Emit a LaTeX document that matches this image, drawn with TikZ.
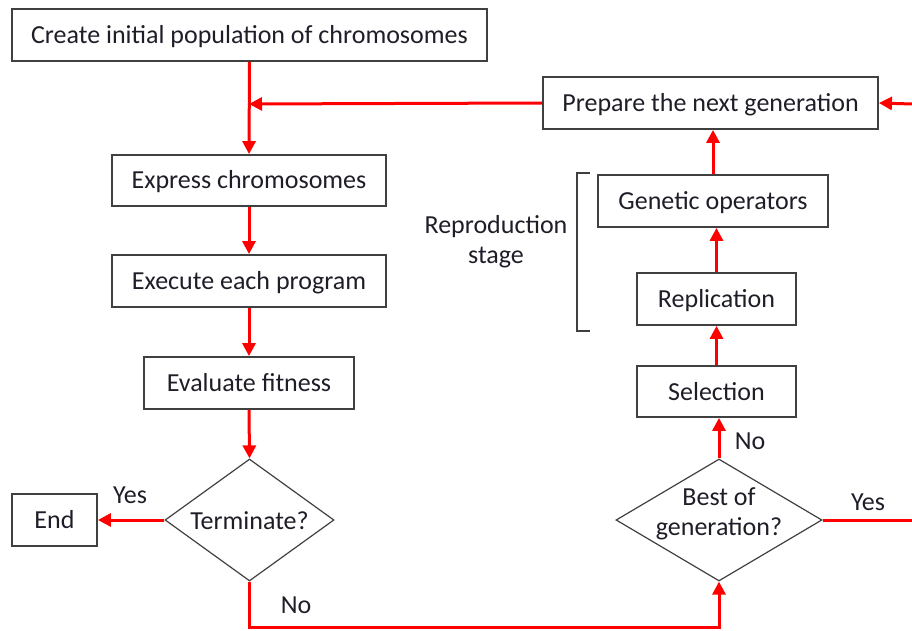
\documentclass[tikz,border=0pt]{standalone}
\usepackage{fontspec}
\setmainfont{Carlito}
\usetikzlibrary{shapes.geometric,arrows.meta}
\definecolor{txt}{HTML}{1E1E28}
\definecolor{bord}{HTML}{404040}
\begin{document}
\begin{tikzpicture}[x=1pt,y=-1pt,
  font=\fontsize{26}{30}\selectfont, text=txt,
  box/.style={draw=bord, line width=1.8pt, inner sep=0pt, rectangle, text height=21pt, text depth=4pt},
  dia/.style={draw=bord, line width=1.2pt, diamond, inner sep=0pt},
  flow/.style={draw=red, line width=3pt},
  arr/.style={flow, -{Triangle[length=13pt,width=13pt]}},
  lbl/.style={inner sep=0pt}
]
\useasboundingbox (0,0) rectangle (912,631);

% boxes
\node[box, minimum width=475pt, minimum height=52pt] (create) at (249.5,35) {Create initial population of chromosomes};
\node[box, minimum width=335pt, minimum height=52pt] (prep) at (710.5,103) {Prepare the next generation};
\node[box, minimum width=274pt, minimum height=51pt] (expr) at (249,180.5) {Express chromosomes};
\node[box, minimum width=274pt, minimum height=52pt] (exec) at (249,281) {Execute each program};
\node[box, minimum width=210pt, minimum height=52pt] (eval) at (249,383) {Evaluate fitness};
\node[box, minimum width=85pt, minimum height=52pt] (end) at (54.5,520) {End};
\node[box, minimum width=230pt, minimum height=52pt] (gen) at (713,201) {Genetic operators};
\node[box, minimum width=159pt, minimum height=52pt] (repl) at (716.5,299) {Replication};
\node[box, minimum width=159pt, minimum height=51pt] (sel) at (716.5,391.5) {Selection};

% diamonds
\node[dia, minimum width=169pt, minimum height=122pt,
      label={[lbl,yshift=-1pt]center:Terminate?}] (term) at (249.5,520) {};
\node[dia, minimum width=206pt, minimum height=122pt,
      label={[lbl,align=center,yshift=6pt]center:Best of\\generation?}] (best) at (719,520) {};

% labels
\node[lbl] (yes1) at (130,495) {Yes};
\node[lbl] (no1) at (296,605) {No};
\node[lbl] (no2) at (750,441) {No};
\node[lbl] (yes2) at (868,502) {Yes};
\node[lbl, align=center] (repro) at (496,242) {Reproduction\\stage};

% bracket
\draw[bord, line width=1.2pt] (590,173) -- (577,173) -- (577,331) -- (590,331);

% connectors
\coordinate (j) at (249,104);
\coordinate (r1) at (912,520);
\coordinate (r2) at (912,104);
\draw[arr] (create.south) -- (expr.north);
\draw[arr] (prep.west) -- (j);
\draw[arr] (expr.south) -- (exec.north);
\draw[arr] (exec.south) -- (eval.north);
\draw[arr] (eval.south) -- (term.north);
\draw[arr] (term.west) -- (end.east);
\draw[arr] (term.south) -- ++(0,46) -| (best.south);
\draw[arr] (best.north) -- (best.north |- sel.south);
\draw[arr] (sel.north) -- (repl.south);
\draw[arr] (repl.north) -- (repl.north |- gen.south);
\draw[arr] (gen.north) -- (gen.north |- prep.south);
\draw[flow] (best.east) -- (r1);
\draw[arr] (r2) -- (prep.east);
\end{tikzpicture}
\end{document}
